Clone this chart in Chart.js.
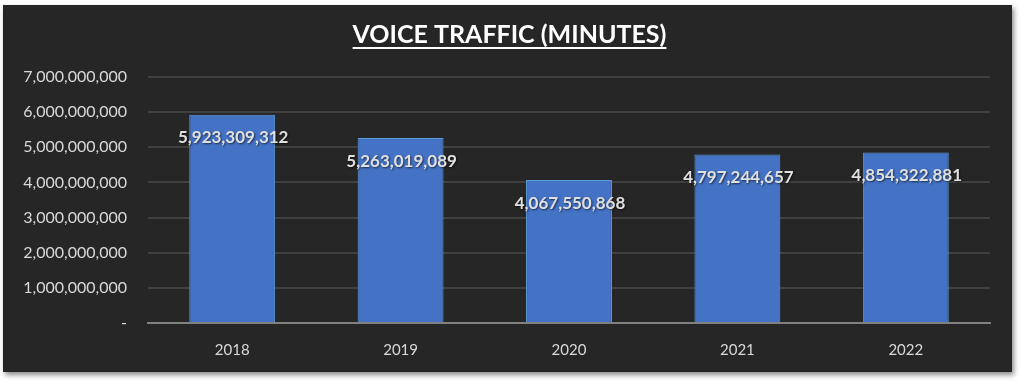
<!DOCTYPE html>
<html>
<head>
<meta charset="utf-8">
<script src="https://cdn.jsdelivr.net/npm/chart.js@4"></script>
<style>
  body { margin: 0; background: #fff; }
  #box { position: absolute; left: 3px; top: 5px; width: 1009px; height: 367px; background: #262626;
         box-shadow: 2px 3px 5px rgba(0,0,0,0.45); }
</style>
</head>
<body>
<div id="box"><canvas id="voice-chart" width="1009" height="367"></canvas></div>
<script>
var years = ["2018", "2019", "2020", "2021", "2022"];
var minutes = [5923309312, 5263019089, 4067550868, 4797244657, 4854322881];
var chartTitle = "VOICE TRAFFIC (MINUTES)";

// title with underline, drawn on canvas
var titlePlugin = {
    id: "underlinedTitle",
    afterDraw: function(chart) {
        var c = chart.ctx;
        c.save();
        c.font = "bold 25px Lato";
        c.fillStyle = "#ffffff";
        c.textAlign = "center";
        c.textBaseline = "middle";
        var x = chart.width / 2 + 2;
        c.fillText(chartTitle, x, 30);
        var w = c.measureText(chartTitle).width;
        c.fillRect(x - w / 2, 42, w, 2);
        c.restore();
    }
};

// value labels just below each bar top
var valuePlugin = {
    id: "values",
    afterDatasetsDraw: function(chart) {
        var c = chart.ctx;
        var meta = chart.getDatasetMeta(0);
        c.save();
        c.font = "bold 17px Lato";
        c.fillStyle = "#e0e0e0";
        c.textAlign = "center";
        c.textBaseline = "middle";
        c.shadowColor = "rgba(0,0,0,0.6)";
        c.shadowBlur = 2;
        c.shadowOffsetX = 1;
        c.shadowOffsetY = 1;
        meta.data.forEach(function(bar, i) {
            c.fillText(minutes[i].toLocaleString("en-US"), bar.x + 1, bar.y + 23);
        });
        c.restore();
    }
};

new Chart(document.getElementById("voice-chart"), {
    type: "bar",
    data: {
        labels: years,
        datasets: [{
            data: minutes,
            backgroundColor: "#4472C4",
            borderColor: "#5B9BD5",
            borderWidth: 1,
            barPercentage: 0.51,
            categoryPercentage: 1
        }]
    },
    options: {
        responsive: false,
        animation: false,
        layout: { padding: { top: 72, right: 22, bottom: 0, left: 0 } },
        plugins: { legend: { display: false }, title: { display: false }, tooltip: { enabled: false } },
        scales: {
            x: {
                afterFit: function(scale) { scale.height = 49; },
                grid: { display: false, drawTicks: false },
                border: { color: "#808080", width: 2 },
                ticks: { color: "#d9d9d9", font: { family: "Lato", size: 15 }, padding: 18 }
            },
            y: {
                min: 0,
                max: 7000000000,
                afterFit: function(scale) { scale.width = 145; },
                grid: { color: "#404040", lineWidth: 2, drawTicks: false },
                border: { display: false },
                ticks: {
                    stepSize: 1000000000,
                    color: "#d9d9d9",
                    font: { family: "Lato", size: 16 },
                    padding: 21,
                    callback: function(v) { return v === 0 ? "-" : v.toLocaleString("en-US"); }
                }
            }
        }
    },
    plugins: [titlePlugin, valuePlugin]
});
</script>
</body>
</html>
